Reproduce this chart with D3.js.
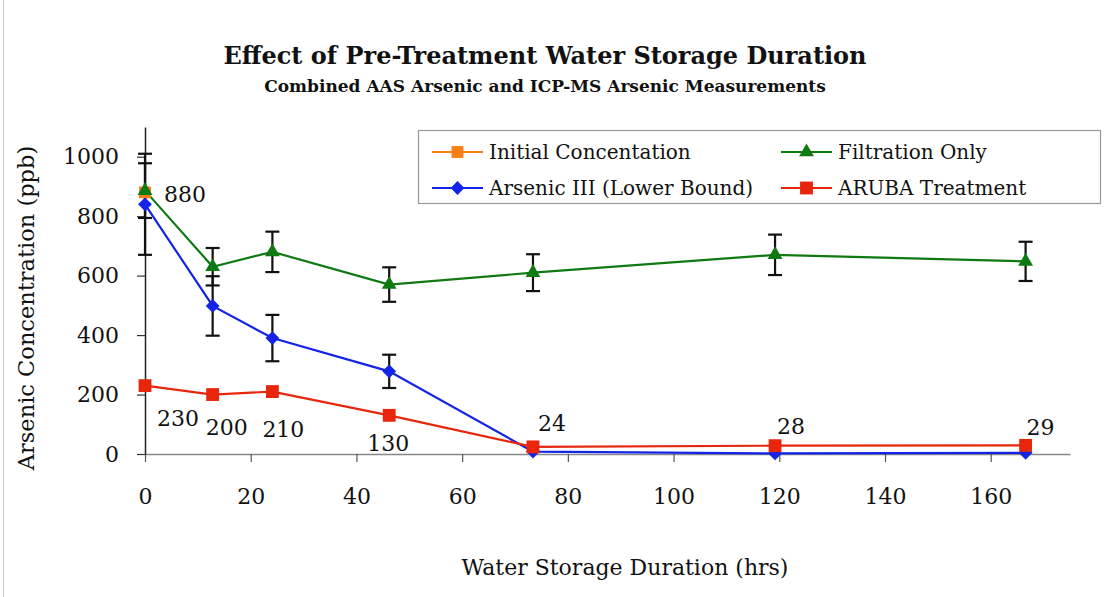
<!DOCTYPE html>
<html><head><meta charset="utf-8">
<script src="https://cdn.jsdelivr.net/npm/d3@7"></script>
<style>
body{margin:0;background:#fff;}
text{font-family:"DejaVu Serif",serif;fill:#111;}
</style></head>
<body><svg id="c" width="1105" height="597"></svg>
<script>
// ---- data ----
const times = [0, 12.8, 24.1, 46.2, 73.4, 119.2, 166.6];
const initialTimes = [0];
const initialValues = [880];
const filtrationValues = [886, 630, 680, 570, 610, 670, 648];
const filtrationErr = [92, 63, 68, 58, 62, 68, 66];
const arsenic3Values = [840, 498, 390, 278, 8, 2, 4];
const arsenic3Err = [170, 100, 78, 56, 0, 0, 0];
const arubaValues = [230, 200, 210, 130, 24, 28, 29];
const xTicks = [0, 20, 40, 60, 80, 100, 120, 140, 160];
const yTicks = [0, 200, 400, 600, 800, 1000];
const seriesNames = ["Initial Concentation", "Filtration Only", "Arsenic III (Lower Bound)", "ARUBA Treatment"];
const labelTexts = ["880", "230", "200", "210", "130", "24", "28", "29"];

// ---- styles ----
const colors = {init:"#F77F14", filt:"#0F7A12", as3:"#1424E6", aruba:"#E8260C"};
const svg = d3.select("#c");
const x = d3.scaleLinear().domain([0, 175]).range([145, 1070]);
const y = d3.scaleLinear().domain([0, 1100]).range([454, 127]);

// frame line at left
svg.append("line").attr("x1",3.5).attr("x2",3.5).attr("y1",0).attr("y2",597).attr("stroke","#ccc").attr("stroke-width",1);

// titles
svg.append("text").attr("x",545).attr("y",64).attr("text-anchor","middle")
  .style("font-weight","bold").style("font-size","24px").text("Effect of Pre-Treatment Water Storage Duration");
svg.append("text").attr("x",545).attr("y",92).attr("text-anchor","middle")
  .style("font-weight","bold").style("font-size","17px").text("Combined AAS Arsenic and ICP-MS Arsenic Measurements");

// axes
const xAxis = svg.append("g").attr("transform","translate(0,454)")
  .call(d3.axisBottom(x).tickValues(xTicks).tickSize(8).tickSizeOuter(0).tickPadding(26).tickFormat(d3.format("d")));
xAxis.select(".domain").attr("stroke","#888").attr("stroke-width",1.5);
xAxis.selectAll(".tick line").attr("stroke","#555").attr("stroke-width",1.2);
xAxis.selectAll("text").style("font-size","22px").style("font-family","DejaVu Serif").attr("fill","#111");

const yAxis = svg.append("g").attr("transform","translate(145,0)")
  .call(d3.axisLeft(y).tickValues(yTicks).tickSize(8).tickSizeOuter(0).tickPadding(18).tickFormat(d3.format("d")));
yAxis.select(".domain").attr("stroke","#222").attr("stroke-width",1.5);
yAxis.selectAll(".tick line").attr("stroke","#333").attr("stroke-width",1.2);
yAxis.selectAll("text").style("font-size","22px").style("font-family","DejaVu Serif").attr("fill","#111");

svg.append("text").attr("transform","translate(34,308) rotate(-90)").attr("text-anchor","middle")
  .style("font-size","22.5px").text("Arsenic Concentration (ppb)");
svg.append("text").attr("x",625).attr("y",575).attr("text-anchor","middle")
  .style("font-size","22px").text("Water Storage Duration (hrs)");

// helpers
const line = d3.line().x(d=>x(d.t)).y(d=>y(d.v));
const mk = (vals, errs) => vals.map((v,i)=>({t: times[i], v, e: errs ? errs[i] : 0}));
const initData = initialValues.map((v,i)=>({t: initialTimes[i], v, e:0}));
const filtData = mk(filtrationValues, filtrationErr);
const as3Data = mk(arsenic3Values, arsenic3Err);
const arubaData = mk(arubaValues, null);

function symbolPath(kind){
  if(kind==="square") return d3.symbol().type(d3.symbolSquare).size(165)();
  if(kind==="smallsquare") return d3.symbol().type(d3.symbolSquare).size(140)();
  if(kind==="triangle") return d3.symbol().type(d3.symbolTriangle).size(95)();
  if(kind==="diamond") return d3.symbol().type(d3.symbolSquare).size(95)();
}

const series = [
  {data:initData, color:colors.init, kind:"smallsquare"},
  {data:filtData, color:colors.filt, kind:"triangle"},
  {data:as3Data, color:colors.as3, kind:"diamond"},
  {data:arubaData, color:colors.aruba, kind:"square"}
];

// lines
series.forEach(s=>{
  svg.append("path").datum(s.data).attr("d",line).attr("fill","none")
    .attr("stroke",s.color).attr("stroke-width",2.2);
});
// error bars
const eb = svg.append("g").attr("stroke","#111").attr("stroke-width",2.2);
[filtData, as3Data].forEach(d=>{
  d.filter(p=>p.e>0).forEach(p=>{
    const cx = x(p.t);
    eb.append("line").attr("x1",cx).attr("x2",cx).attr("y1",y(p.v+p.e)).attr("y2",y(p.v-p.e));
    eb.append("line").attr("x1",cx-7).attr("x2",cx+7).attr("y1",y(p.v+p.e)).attr("y2",y(p.v+p.e));
    eb.append("line").attr("x1",cx-7).attr("x2",cx+7).attr("y1",y(p.v-p.e)).attr("y2",y(p.v-p.e));
  });
});
// markers
series.forEach(s=>{
  svg.append("g").selectAll("path").data(s.data).join("path")
    .attr("d",symbolPath(s.kind))
    .attr("transform",d=>`translate(${x(d.t)},${y(d.v)})` + (s.kind==="diamond"?" rotate(45)":""))
    .attr("fill",s.color);
});

// data labels (value source: labelTexts; offsets are style)
const labelAnchors = [
  {t: initialTimes[0], v: initialValues[0], dx: 19, dy: 10, anchor:"start"},
  {t: times[0], v: arubaValues[0], dx: 33, dy: 40, anchor:"middle"},
  {t: times[1], v: arubaValues[1], dx: 14, dy: 40, anchor:"middle"},
  {t: times[2], v: arubaValues[2], dx: 11, dy: 45, anchor:"middle"},
  {t: times[3], v: arubaValues[3], dx: -1, dy: 36, anchor:"middle"},
  {t: times[4], v: arubaValues[4], dx: 19, dy: -16, anchor:"middle"},
  {t: times[5], v: arubaValues[5], dx: 16, dy: -12, anchor:"middle"},
  {t: times[6], v: arubaValues[6], dx: 15, dy: -10, anchor:"middle"}
];
svg.append("g").selectAll("text").data(labelAnchors).join("text")
  .attr("x",d=>x(d.t)+d.dx).attr("y",d=>y(d.v)+d.dy).attr("text-anchor",d=>d.anchor)
  .style("font-size","22px").text((d,i)=>labelTexts[i]);

// legend
const lg = svg.append("g");
lg.append("rect").attr("x",418.5).attr("y",130.5).attr("width",682).attr("height",73)
  .attr("fill","#fff").attr("stroke","#999").attr("stroke-width",1.2);
const legendItems = [
  {name: seriesNames[0], color: colors.init, kind:"smallsquare", lx:432, ly:152},
  {name: seriesNames[1], color: colors.filt, kind:"triangle", lx:781, ly:152},
  {name: seriesNames[2], color: colors.as3, kind:"diamond", lx:432, ly:188},
  {name: seriesNames[3], color: colors.aruba, kind:"square", lx:781, ly:188}
];
legendItems.forEach(it=>{
  lg.append("line").attr("x1",it.lx).attr("x2",it.lx+51).attr("y1",it.ly).attr("y2",it.ly)
    .attr("stroke",it.color).attr("stroke-width",2.2);
  lg.append("path").attr("d",symbolPath(it.kind))
    .attr("transform",`translate(${it.lx+25.5},${it.ly})`+(it.kind==="diamond"?" rotate(45)":""))
    .attr("fill",it.color);
  lg.append("text").attr("x",it.lx+57).attr("y",it.ly+7).style("font-size","20px").text(it.name);
});
</script></body></html>
